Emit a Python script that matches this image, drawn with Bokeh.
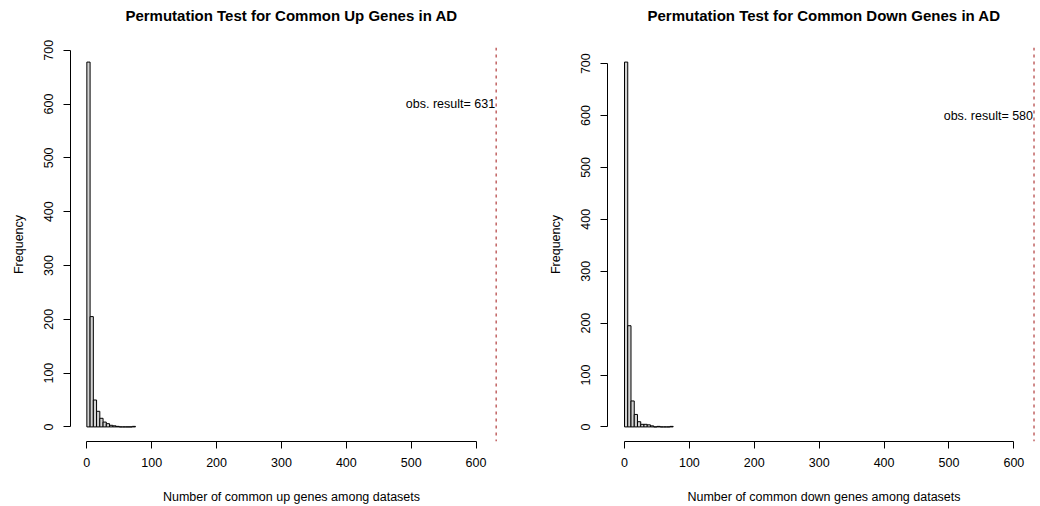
from bokeh.plotting import figure
from bokeh.layouts import row
from bokeh.models import FixedTicker, Span, Label, Range1d
from bokeh.embed import file_html
from bokeh.resources import INLINE

# ---- data ----
bin_breaks = [0, 5, 10, 15, 20, 25, 30, 35, 40, 45, 50, 55, 60, 65, 70, 75]
up_counts = [678, 205, 50, 29, 16, 9, 6, 3, 2, 1, 0, 0, 0, 0, 1]
down_counts = [703, 195, 50, 24, 10, 5, 5, 4, 2, 0, 1, 0, 0, 0, 1]
obs_line = [631, 631]
obs_label_values = [631, 580]
titles = ["Permutation Test for Common Up Genes in AD",
          "Permutation Test for Common Down Genes in AD"]
xlabels = ["Number of common up genes among datasets",
           "Number of common down genes among datasets"]
x_ticks = [0, 100, 200, 300, 400, 500, 600]
y_ticks = [0, 100, 200, 300, 400, 500, 600, 700]

FONT = "Liberation Sans"


def make_panel(counts, title, xlabel, obs_x, obs_val, x_range, width, border_left, border_right):
    ymax = max(counts)
    pad = 0.04 * ymax
    p = figure(width=width, height=506, output_backend="svg", toolbar_location=None,
               x_range=Range1d(*x_range), y_range=Range1d(-pad, ymax + pad),
               min_border_left=border_left, min_border_right=border_right,
               min_border_top=47, min_border_bottom=63)
    # trailing empty line keeps the title near the top edge, above a gap
    p.title.text = title + "\n "
    p.title.align = "center"
    p.title.vertical_align = "top"
    p.title.text_font = FONT
    p.title.text_font_size = "15px"
    p.title.text_font_style = "bold"
    p.title.text_color = "black"
    p.title.text_line_height = 1.3
    p.title.standoff = 0
    p.outline_line_color = None
    p.grid.visible = False
    p.background_fill_color = "white"
    p.border_fill_color = "white"

    p.quad(left=bin_breaks[:-1], right=bin_breaks[1:], top=counts, bottom=0,
           fill_color="#D3D3D3", line_color="black", line_width=1)

    p.add_layout(Span(location=obs_x, dimension="height", line_color="#B03A3A",
                      line_dash="3 4", line_width=1.2))
    p.add_layout(Label(x=obs_x, y=600, text="obs. result= %d" % obs_val,
                       text_align="right", text_baseline="middle", x_offset=-1,
                       text_font=FONT, text_font_size="12.5px", text_color="black"))

    for ax, ticks in ((p.xaxis[0], x_ticks), (p.yaxis[0], y_ticks)):
        ax.ticker = FixedTicker(ticks=ticks)
        ax.bounds = (ticks[0], ticks[-1])
        ax.minor_tick_line_color = None
        ax.major_tick_in = 0
        ax.major_tick_out = 7
        ax.axis_line_color = "black"
        ax.major_tick_line_color = "black"
        ax.major_label_text_font = FONT
        ax.major_label_text_font_size = "12.5px"
        ax.major_label_text_color = "black"
        ax.axis_label_text_font = FONT
        ax.axis_label_text_font_size = "12.5px"
        ax.axis_label_text_font_style = "normal"
        ax.axis_label_text_color = "black"
    p.xaxis.axis_label = xlabel
    p.xaxis.major_label_standoff = 9
    p.xaxis.axis_label_standoff = 20
    p.yaxis.axis_label = "Frequency"
    p.yaxis.major_label_orientation = "vertical"
    p.yaxis.major_label_standoff = 10
    p.yaxis.axis_label_standoff = 16
    return p


p1 = make_panel(up_counts, titles[0], xlabels[0], obs_line[0], obs_label_values[0],
                (-25.2, 656.2), 520, 70, 8)
p2 = make_panel(down_counts, titles[1], xlabels[1], obs_line[1], obs_label_values[1],
                (-26.2, 641.0), 520, 87, 0)

layout = row(p1, p2)
open("out.html", "w").write(file_html(layout, INLINE))
